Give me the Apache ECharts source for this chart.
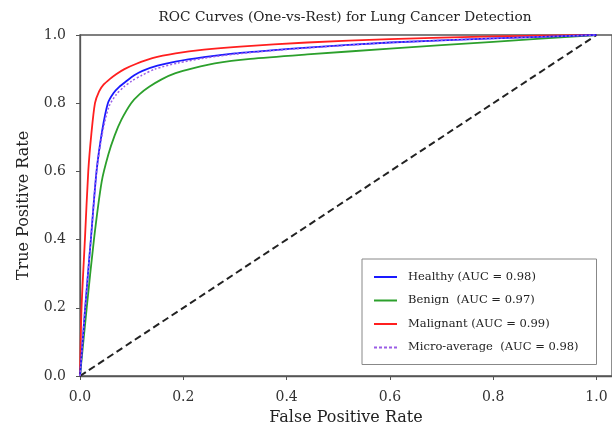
<!DOCTYPE html>
<html>
<head>
<meta charset="utf-8">
<script src="https://cdn.jsdelivr.net/npm/echarts@6/dist/echarts.min.js"></script>
<style>html,body{margin:0;padding:0;background:#fff}#c{width:612px;height:432px}</style>
</head>
<body>
<div id="c"></div>
<script>
const xTicks = [0, 0.2, 0.4, 0.6, 0.8, 1.0];
const yTicks = [0, 0.2, 0.4, 0.6, 0.8, 1.0];

const healthyFpr = [0, 0.01, 0.021, 0.032, 0.043, 0.054, 0.065, 0.076, 0.09, 0.105, 0.121, 0.15, 0.185, 0.24, 0.3, 0.37, 0.44, 0.6, 0.8, 1.0];
const healthyTpr = [0, 0.2, 0.4, 0.6, 0.72, 0.8, 0.83, 0.848, 0.865, 0.882, 0.895, 0.91, 0.922, 0.935, 0.946, 0.955, 0.963, 0.978, 0.99, 1.0];

const benignFpr = [0, 0.013, 0.027, 0.042, 0.055, 0.067, 0.08, 0.099, 0.115, 0.134, 0.158, 0.185, 0.22, 0.261, 0.33, 0.44, 0.6, 0.8, 1.0];
const benignTpr = [0, 0.2, 0.4, 0.57, 0.65, 0.705, 0.751, 0.8, 0.826, 0.848, 0.87, 0.888, 0.903, 0.917, 0.93, 0.943, 0.96, 0.98, 1.0];

const malignantFpr = [0, 0.003, 0.0095, 0.016, 0.022, 0.029, 0.037, 0.046, 0.057, 0.07, 0.086, 0.108, 0.14, 0.185, 0.24, 0.31, 0.44, 0.6, 0.8, 1.0];
const malignantTpr = [0, 0.2, 0.4, 0.6, 0.71, 0.8, 0.835, 0.855, 0.87, 0.885, 0.9, 0.915, 0.932, 0.946, 0.957, 0.966, 0.978, 0.988, 0.996, 1.0];

const microFpr = [0, 0.01, 0.021, 0.032, 0.043, 0.056, 0.07, 0.085, 0.1, 0.12, 0.145, 0.19, 0.24, 0.3, 0.37, 0.44, 0.6, 0.8, 1.0];
const microTpr = [0, 0.2, 0.4, 0.6, 0.71, 0.79, 0.825, 0.848, 0.865, 0.882, 0.9, 0.918, 0.932, 0.944, 0.954, 0.962, 0.978, 0.99, 1.0];

const chanceX = [0, 1];
const chanceY = [0, 1];

const names = ['Healthy (AUC = 0.98)', 'Benign  (AUC = 0.97)', 'Malignant (AUC = 0.99)', 'Micro-average  (AUC = 0.98)'];

const zip = (a, b) => a.map((v, i) => [v, b[i]]);
const FONT = 'DejaVu Serif';

const chart = echarts.init(document.getElementById('c'), null, {renderer: 'canvas'});
const lineSeries = (name, xs, ys, color, type, width, z) => ({
  name, type: 'line', data: zip(xs, ys), symbol: 'none', showSymbol: false,
  smooth: 0.25, z: z || 2,
  lineStyle: {color, width, type: type || 'solid'}, itemStyle: {color}
});
const dotted = 'path://M0,0h3v2h-3z M5,0h3v2h-3z M10,0h3v2h-3z M15,0h3v2h-3z M20,0h3v2h-3z';
chart.setOption({
  animation: false,
  backgroundColor: '#fff',
  title: {
    text: 'ROC Curves (One-vs-Rest) for Lung Cancer Detection',
    left: 340, textAlign: 'center', top: 5,
    textStyle: {fontFamily: FONT, fontSize: 13.7, fontWeight: 'normal', color: '#222'}
  },
  grid: {left: 80, top: 35, right: -7, bottom: 56, show: true, borderColor: '#555', borderWidth: 1.3, backgroundColor: 'transparent'},
  xAxis: {
    type: 'value', min: 0, max: 1.03, interval: 0.2,
    name: 'False Positive Rate', nameLocation: 'middle', nameGap: 34,
    nameTextStyle: {fontFamily: FONT, fontSize: 16, color: '#222'},
    axisLine: {show: true, onZero: false, lineStyle: {color: '#555', width: 1.3}},
    axisTick: {show: true, length: 4, lineStyle: {color: '#555'}},
    axisLabel: {fontFamily: FONT, fontSize: 14, color: '#333', margin: 14, showMaxLabel: false,
      formatter: v => xTicks.some(t => Math.abs(t - v) < 1e-9) ? v.toFixed(1) : ''},
    splitLine: {show: false}
  },
  yAxis: {
    type: 'value', min: 0, max: 1.0, interval: 0.2,
    name: 'True Positive Rate', nameLocation: 'middle', nameGap: 48,
    nameTextStyle: {fontFamily: FONT, fontSize: 16, color: '#222'},
    axisLine: {show: true, onZero: false, lineStyle: {color: '#555', width: 1.3}},
    axisTick: {show: true, length: 4, lineStyle: {color: '#555'}},
    axisLabel: {fontFamily: FONT, fontSize: 14, color: '#333', margin: 14,
      formatter: v => yTicks.some(t => Math.abs(t - v) < 1e-9) ? v.toFixed(1) : ''},
    splitLine: {show: false}
  },
  legend: {
    data: [
      {name: names[0], icon: 'rect'},
      {name: names[1], icon: 'rect'},
      {name: names[2], icon: 'rect'},
      {name: names[3], icon: dotted}
    ],
    orient: 'vertical', left: 362, top: 259,
    padding: [11, 18, 10, 12], itemGap: 9.5, itemWidth: 23, itemHeight: 2,
    borderColor: '#888', borderWidth: 1, backgroundColor: '#fff',
    textStyle: {fontFamily: FONT, fontSize: 11.5, lineHeight: 14, color: '#222', padding: [0, 0, 0, 6]}
  },
  series: [
    lineSeries('chance', chanceX, chanceY, '#222', [7, 4], 2, 1),
    lineSeries(names[0], healthyFpr, healthyTpr, '#1a1aff', 'solid', 1.8, 3),
    lineSeries(names[1], benignFpr, benignTpr, '#2ca02c', 'solid', 1.8, 2),
    lineSeries(names[2], malignantFpr, malignantTpr, '#ff1f1f', 'solid', 1.8, 2),
    lineSeries(names[3], microFpr, microTpr, '#9a5ce6', [2, 2], 1.5, 4)
  ]
});
</script>
</body>
</html>
